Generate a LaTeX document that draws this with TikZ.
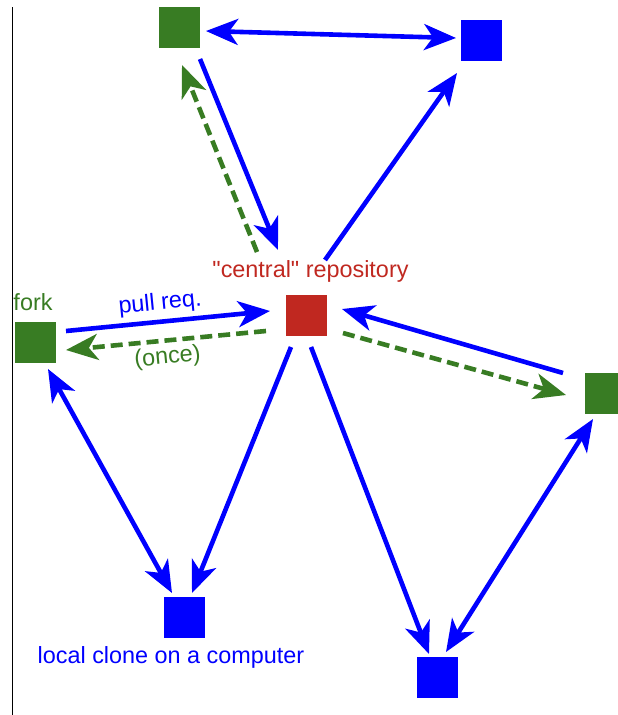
\documentclass[tikz,border=0pt]{standalone}
\usepackage{fontspec}
\setmainfont{Liberation Sans}[Ligatures=TeXOff]
\usetikzlibrary{arrows.meta}
\definecolor{cgreen}{RGB}{56,124,35}
\definecolor{cred}{RGB}{192,40,32}
\definecolor{cblue}{RGB}{0,0,255}
\tikzset{
  sq/.style={minimum size=41pt, inner sep=0pt, draw=none, fill=#1},
  bl/.style={draw=cblue, line width=4.6pt, -{Stealth[length=32pt,width=26pt,inset=9pt]}},
  blboth/.style={draw=cblue, line width=4.6pt, {Stealth[length=32pt,width=26pt,inset=9pt]}-{Stealth[length=32pt,width=26pt,inset=9pt]}},
  gd/.style={draw=cgreen, line width=4.6pt, dash pattern=on 12pt off 6pt, -{Stealth[length=32pt,width=26pt,inset=9pt]}},
  lbl/.style={font=\fontsize{23.4pt}{27pt}\selectfont, inner sep=0pt}
}
\begin{document}
\begin{tikzpicture}[x=1pt,y=-1pt]
\useasboundingbox (0,0) rectangle (618,715);
\draw[line width=1.8pt] (12.5,7) -- (12.5,715);
% nodes
\node[sq=cgreen] (tg) at (179,27.5) {};
\node[sq=cblue] (tb) at (481,40.5) {};
\node[sq=cred] (c) at (306.5,315) {};
\node[sq=cgreen] (f) at (35,342.5) {};
\node[sq=cgreen] (rg) at (605,393) {};
\node[sq=cblue] (lc) at (184.5,617.5) {};
\node[sq=cblue] (br) at (437.5,677.5) {};
% labels
\node[lbl, text=cred] (lcentral) at (310.5,271) {"central" repository};
\node[lbl, text=cgreen] (lfork) at (33,302) {fork};
\node[lbl, text=cblue] (llocal) at (171,657) {local clone on a computer};
% connectors
\draw[blboth] ([shift={(27,3.5)}]tg.center) -- ([shift={(-25,-2.5)}]tb.center);
\draw[bl] ([shift={(21,31.5)}]tg.center) -- ([shift={(-28.5,-65)}]c.center);
\draw[gd] ([shift={(-49.5,-63)}]c.center) -- ([shift={(3,37.5)}]tg.center);
\draw[bl] ([shift={(18.5,-55)}]c.center) -- ([shift={(-24,32.5)}]tb.center);
\draw[bl] ([shift={(31,-11.5)}]f.center) -- node[lbl, text=cblue, sloped, above=5pt, pos=0.47] (lpull) {pull req.} ([shift={(-36.5,-4)}]c.center);
\draw[gd] ([shift={(-40.5,16)}]c.center) -- node[lbl, text=cgreen, sloped, below=4pt, pos=0.5] (lonce) {(once)} ([shift={(31,7.5)}]f.center);
\draw[bl] ([shift={(-42,-20)}]rg.center) -- ([shift={(35.5,-6)}]c.center);
\draw[gd] ([shift={(36.5,18)}]c.center) -- ([shift={(-39,2)}]rg.center);
\draw[blboth] ([shift={(13,26.5)}]f.center) -- ([shift={(-12.5,-24.5)}]lc.center);
\draw[bl] ([shift={(-15.5,32)}]c.center) -- ([shift={(7.5,-24.5)}]lc.center);
\draw[bl] ([shift={(4.5,32)}]c.center) -- ([shift={(-8.5,-23.5)}]br.center);
\draw[blboth] ([shift={(-12,26)}]rg.center) -- ([shift={(8.5,-25.5)}]br.center);
\end{tikzpicture}
\end{document}
